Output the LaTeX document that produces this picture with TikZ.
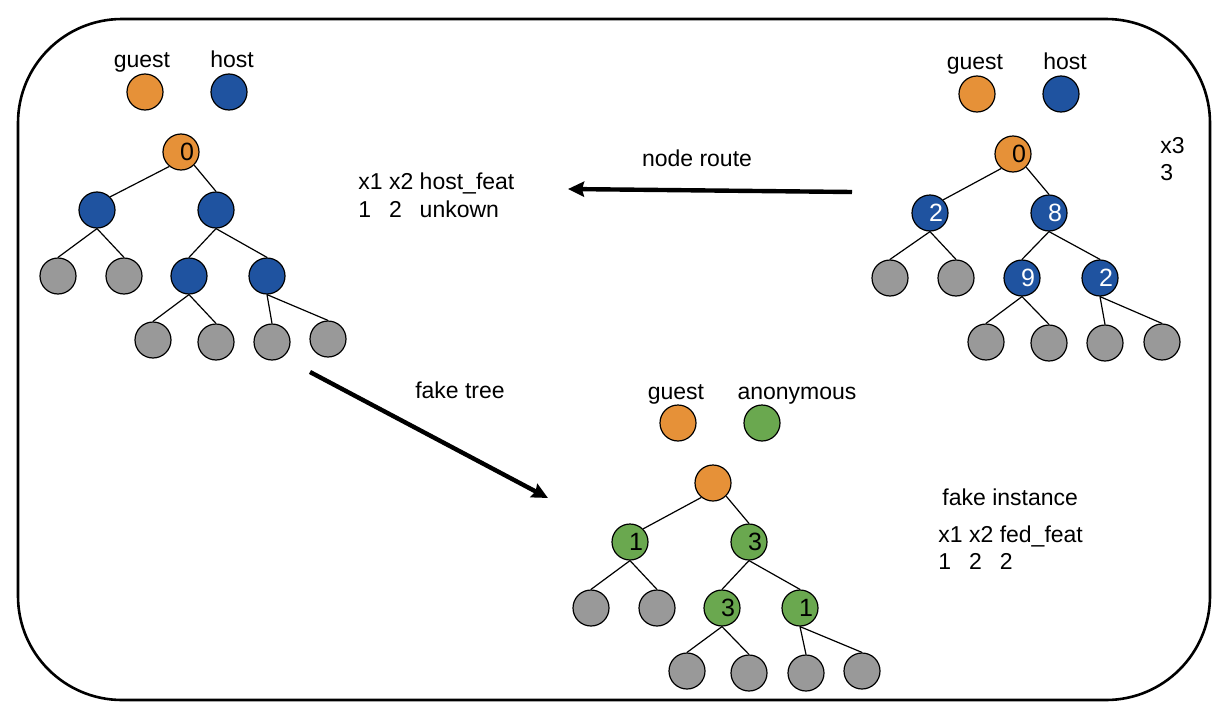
\documentclass[tikz,border=0pt]{standalone}
\usepackage{fontspec}
\setmainfont{Liberation Sans}
\usetikzlibrary{arrows.meta}
\definecolor{orangeC}{RGB}{230,145,56}
\definecolor{blueC}{RGB}{31,83,160}
\definecolor{greenC}{RGB}{106,168,79}
\definecolor{grayC}{RGB}{153,153,153}
\newcommand\numfont{\fontsize{12.5}{14}\selectfont}
\newcommand\lblfont{\fontsize{11.5}{14}\selectfont}
\tikzset{
  nd/.style={circle, draw=black, line width=0.6pt, minimum size=18pt, inner sep=0pt, font=\numfont},
  org/.style={nd, fill=orangeC},
  hst/.style={nd, fill=blueC, text=white},
  grn/.style={nd, fill=greenC},
  gry/.style={nd, fill=grayC},
  edge/.style={line width=0.6pt},
  lbl/.style={font=\lblfont, inner sep=0pt, anchor=base},
  bigarrow/.style={line width=2.2pt, -{Stealth[length=8pt,width=7.5pt,inset=1pt]}},
}
\begin{document}
\begin{tikzpicture}[x=0.5pt,y=-0.5pt]
\useasboundingbox (0,0) rectangle (1216,712);
\draw[line width=1.3pt, rounded corners=52pt] (18,19) rectangle (1210,700);

% left tree
\begin{scope}[shift={(181,152)}]
\node[org] (Lr) at (0,0) {\hspace{6pt}0};
\node[hst] (La) at (-84,58) {};
\node[hst] (Lb) at (35,58) {};
\node[gry] (Lc) at (-123,124) {};
\node[gry] (Ld) at (-57,124) {};
\node[hst] (Le) at (8,124) {};
\node[hst] (Lf) at (86,124) {};
\node[gry] (Lg) at (-28,188) {};
\node[gry] (Lh) at (35,190) {};
\node[gry] (Li) at (91,190) {};
\node[gry] (Lj) at (147,187) {};
\node[org] (Lk) at (-36,-60) {};
\node[hst] (Ll) at (48,-60) {};
\end{scope}
\node[lbl] (Lguest) at (142,67) {guest};
\node[lbl] (Lhost) at (232,67) {host};

% right tree
\begin{scope}[shift={(1013,154)}]
\node[org] (Rr) at (0,0) {\hspace{6pt}0};
\node[hst] (Ra) at (-83,59) {\hspace{6pt}2};
\node[hst] (Rb) at (36,59) {\hspace{6pt}8};
\node[gry] (Rc) at (-123,124) {};
\node[gry] (Rd) at (-57,124) {};
\node[hst] (Re) at (9,124) {\hspace{6pt}9};
\node[hst] (Rf) at (87,124) {\hspace{6pt}2};
\node[gry] (Rg) at (-27,188) {};
\node[gry] (Rh) at (36,189) {};
\node[gry] (Ri) at (92,189) {};
\node[gry] (Rj) at (149,188) {};
\node[org] (Rk) at (-36,-60) {};
\node[hst] (Rl) at (48,-60) {};
\end{scope}
\node[lbl] (Rguest) at (975,69) {guest};
\node[lbl] (Rhost) at (1065,69) {host};

% bottom tree
\begin{scope}[shift={(713,483)}]
\node[org] (Br) at (0,0) {};
\node[grn] (Ba) at (-83,59) {\hspace{6pt}1};
\node[grn] (Bb) at (36,59) {\hspace{6pt}3};
\node[gry] (Bc) at (-122,125) {};
\node[gry] (Bd) at (-56,125) {};
\node[grn] (Be) at (9,125) {\hspace{6pt}3};
\node[grn] (Bf) at (87,125) {\hspace{6pt}1};
\node[gry] (Bg) at (-26,188) {};
\node[gry] (Bh) at (36,190) {};
\node[gry] (Bi) at (93,190) {};
\node[gry] (Bj) at (149,188) {};
\node[org] (Bk) at (-35,-60) {};
\node[grn] (Bl) at (49,-60) {};
\end{scope}
\node[lbl] (Bguest) at (676,399) {guest};
\node[lbl] (Banon) at (797,399) {anonymous};

% tree edges
\foreach \t in {L,R,B}{
  \draw[edge] (\t r.231) -- (\t a.45);
  \draw[edge] (\t r.-45) -- (\t b.north);
  \draw[edge] (\t a.south) -- (\t c.north);
  \draw[edge] (\t a.south) -- (\t d.north);
  \draw[edge] (\t b.south) -- (\t e.north);
  \draw[edge] (\t b.south) -- (\t f.north);
  \draw[edge] (\t e.south) -- (\t g.north);
  \draw[edge] (\t e.south) -- (\t h.north);
  \draw[edge] (\t f.south) -- (\t i.north);
  \draw[edge] (\t f.south) -- (\t j.north);
}

% texts
\node[lbl] (nroute) at (697,166) {node route};
\node[lbl, anchor=base west] (hfeat) at (358,189) {\lblfont\begin{tabular}[t]{@{}l@{ }l@{ }l@{}}x1 & x2 & host\_feat\\ 1 & 2 & unkown\end{tabular}};
\node[lbl, anchor=base west] (xthree) at (1160,153) {\fontsize{11.5}{13.8}\selectfont\begin{tabular}[t]{@{}l@{}}x3\\ 3\end{tabular}};
\node[lbl] (ftree) at (460,398) {fake tree};
\node[lbl, anchor=base west] (finst) at (942,505) {fake instance};
\node[lbl, anchor=base west] (ffeat) at (938,542) {\fontsize{11.5}{13.7}\selectfont\begin{tabular}[t]{@{}l@{ }l@{ }l@{}}x1 & x2 & fed\_feat\\ 1 & 2 & 2\end{tabular}};

% big arrows
\coordinate (nrS) at (852,192);
\coordinate (nrE) at (568,189);
\draw[bigarrow] (nrS) -- (nrE);
\coordinate (ftS) at (310,372);
\coordinate (ftE) at (548,498);
\draw[bigarrow] (ftS) -- (ftE);
\end{tikzpicture}
\end{document}
